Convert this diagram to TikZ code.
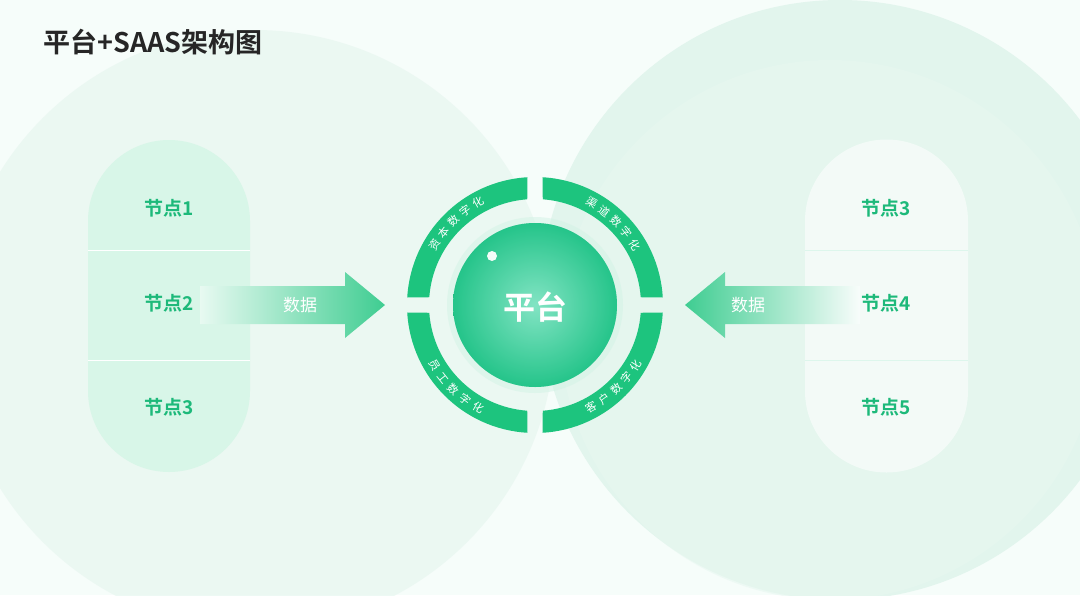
\documentclass[tikz,border=0pt]{standalone}
\usepackage{fontspec}
\setmainfont{Noto Sans CJK SC}
\newfontfamily\cjkb{Noto Sans CJK SC Bold}
\usetikzlibrary{shadings,fadings}
\definecolor{gA}{HTML}{1DC47E}
\definecolor{gT}{HTML}{1DB97A}
\definecolor{bgL}{HTML}{E9F7F1}
\definecolor{bgR}{HTML}{DDF3EA}
\definecolor{pillL}{HTML}{D8F6E8}
\begin{document}
\begin{tikzpicture}[x=1pt,y=-1pt,
  lbl/.style={font=\fontsize{19}{22}\selectfont\cjkb, text=gT},
  ring/.style={fill=gA},
  rt/.style={font=\fontsize{11}{12}\selectfont, text=white}]
\useasboundingbox (0,0) rectangle (1080,595);
\fill[white!96!gA] (0,0) rectangle (1080,595);
\fill[bgL, opacity=0.8] (255,330) circle (300);
\fill[bgR, opacity=0.8] (840,300) circle (300);
\fill[bgR!70!white, opacity=0.6] (830,330) circle (270);
% title
\node[anchor=west, font=\fontsize{27}{30}\selectfont\cjkb, text=black!85] (title) at (40,42) {平台+SAAS架构图};
% left pill
\fill[pillL] (88,221) arc (180:360:81) -- (250,391) arc (0:180:81) -- cycle;
\draw[white, line width=0.8] (88,250) -- (250,250) (88,360) -- (250,360);
\node[lbl] (n1) at (169,208) {节点1};
\node[lbl] (n2) at (169,303) {节点2};
\node[lbl] (n3) at (169,407) {节点3};
% right pill
\fill[white, opacity=0.55] (805,221) arc (180:360:81.5) -- (968,391) arc (0:180:81.5) -- cycle;
\draw[gA!15, line width=0.8] (805,250) -- (968,250) (805,360) -- (968,360);
\node[lbl] (m3) at (886,208) {节点3};
\node[lbl] (m4) at (886,303) {节点4};
\node[lbl] (m5) at (886,407) {节点5};
% arrows
\shade[left color=pillL!60!white, right color=gA!85] (200,286) -- (345,286) -- (345,272) -- (385,305) -- (345,338) -- (345,324) -- (200,324) -- cycle;
\shade[left color=gA!85, right color=white!80!bgR] (860,286) -- (725,286) -- (725,272) -- (685,305) -- (725,338) -- (725,324) -- (860,324) -- cycle;
\node[font=\fontsize{17}{20}\selectfont, text=white] (d1) at (300,305) {数据};
\node[font=\fontsize{17}{20}\selectfont, text=white] (d2) at (748,305) {数据};
% ring segments
\begin{scope}[shift={(535,305)}]
\foreach \q in {0,90,180,270}{
  \fill[ring] ({\q+3.4}:128) arc[start angle=\q+3.4, end angle=\q+86.6, radius=128]
     -- ({\q+85.8}:106) arc[start angle=\q+85.8, end angle=\q+4.2, radius=106] -- cycle;
}
\end{scope}
% ball
\fill[gA!20, opacity=0.5] (535,305) circle (88);
\shade[inner color=gA!45!white, outer color=gA!95!black, shading=radial] (535,305) circle (82);
\fill[gA!60!cyan!80!white, opacity=0.25] (535,305) circle (82);
\fill[white, opacity=0.95] (492,256) circle (5);
\node[font=\fontsize{32}{36}\selectfont\cjkb, text=white] (pt) at (535,307) {平台};
% ring texts
\def\ringtext#1#2#3#4{%
  \foreach \c [count=\i from 0] in {#1}{
    \pgfmathsetmacro\a{#2+\i*#3}
    \node[rt, rotate=\a+#4] at ({535+117*cos(\a)},{305-117*sin(\a)}) {\c};
  }}
\ringtext{资,本,数,字,化}{149}{-7.5}{-90}
\ringtext{渠,道,数,字,化}{61}{-7.5}{-90}
\ringtext{员,工,数,字,化}{211}{7.5}{90}
\ringtext{客,户,数,字,化}{299}{7.5}{90}
\end{tikzpicture}
\end{document}
